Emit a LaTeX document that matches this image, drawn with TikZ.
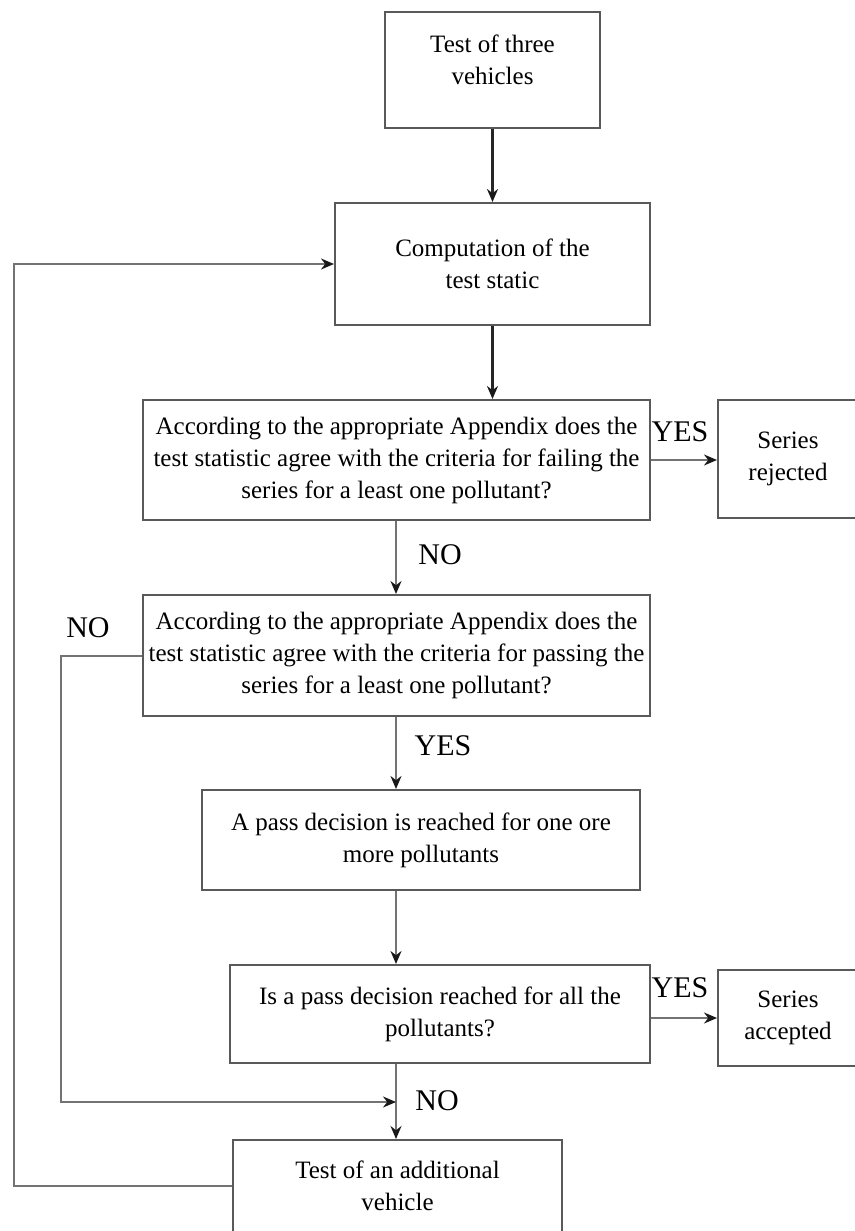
\documentclass[tikz,border=0pt]{standalone}
\usepackage{fontspec}
\setmainfont{Liberation Serif}
\usetikzlibrary{positioning, arrows.meta}

\begin{document}
\begin{tikzpicture}[
    x=1pt, y=-1pt,
    >=Stealth,
    box/.style={
        rectangle,
        draw=black!65,
        line width=2pt,
        inner sep=1pt,
        align=center,
        font=\fontsize{25}{32}\selectfont
    },
    answer/.style={
        font=\fontsize{30}{32}\selectfont
    },
    arrow/.style={-{Stealth[length=13pt, width=11pt, color=black!90]}, draw=black!55, line width=2pt},
    darrow/.style={arrow, draw=black!85, line width=2.5pt}
]
\useasboundingbox (0,0) rectangle (854,1231);

% Start
\node[box, minimum width=215, minimum height=116] (test3) at (492.5,70) {Test of three\\vehicles\\[-12pt]~};
\node[box, minimum width=315, minimum height=122] (compute) at (492.5,264) {Computation of the\\test static};

% Failing check
\node[box, minimum width=507, minimum height=120] (failcheck) at (396.5,460) {
    According to the appropriate Appendix does the\\
    test statistic agree with the criteria for failing the\\
    series for a least one pollutant?
};
\node[box, minimum width=140, minimum height=118] (rejected) at (788,459) {Series\\rejected};

% Passing check
\node[box, minimum width=507, minimum height=121] (passcheck) at (396.5,655.5) {
    According to the appropriate Appendix does the\\
    test statistic agree with the criteria for passing the\\
    series for a least one pollutant?
};
\node[box, minimum width=438, minimum height=100] (passone) at (421,840) {A pass decision is reached for one ore\\more pollutants};
\node[box, minimum width=420, minimum height=98] (passall) at (440,1014) {Is a pass decision reached for all the\\pollutants?};
\node[box, minimum width=140, minimum height=96] (accepted) at (788,1018) {Series\\accepted};

% Extra vehicle
\node[box, minimum width=329, minimum height=92] (additional) at (397.5,1186) {Test of an additional\\vehicle};
\coordinate (merge) at (396,1102);

% Arrows - main flow
\draw[darrow] (test3) -- (compute);
\draw[darrow] (compute) -- (failcheck.north -| compute);
\draw[arrow] (failcheck.east) -- (failcheck.east -| rejected.west);
\draw[arrow] (failcheck.south -| merge) -- (passcheck.north -| merge);
\draw[arrow] (passcheck.south -| merge) -- (passone.north -| merge);
\draw[arrow] (passone.south -| merge) -- (passall.north -| merge);
\draw[arrow] (accepted.west -| passall.east) -- (accepted.west);
\draw[arrow] (passall.south -| merge) -- (additional.north -| merge);

% Arrows - loops back
\draw[arrow] (passcheck.west) -- ++(-81,0) |- (merge);
\draw[arrow] (additional.west) -- ++(-218,0) |- (compute.west);

% Answers
\node[answer] (yesfail) at (680,432) {YES};
\node[answer] (nofail) at (440,555) {NO};
\node[answer] (nopass) at (88,628) {NO};
\node[answer] (yespass) at (443,746) {YES};
\node[answer] (yesall) at (680,988) {YES};
\node[answer] (noall) at (437,1101) {NO};

\end{tikzpicture}
\end{document}
